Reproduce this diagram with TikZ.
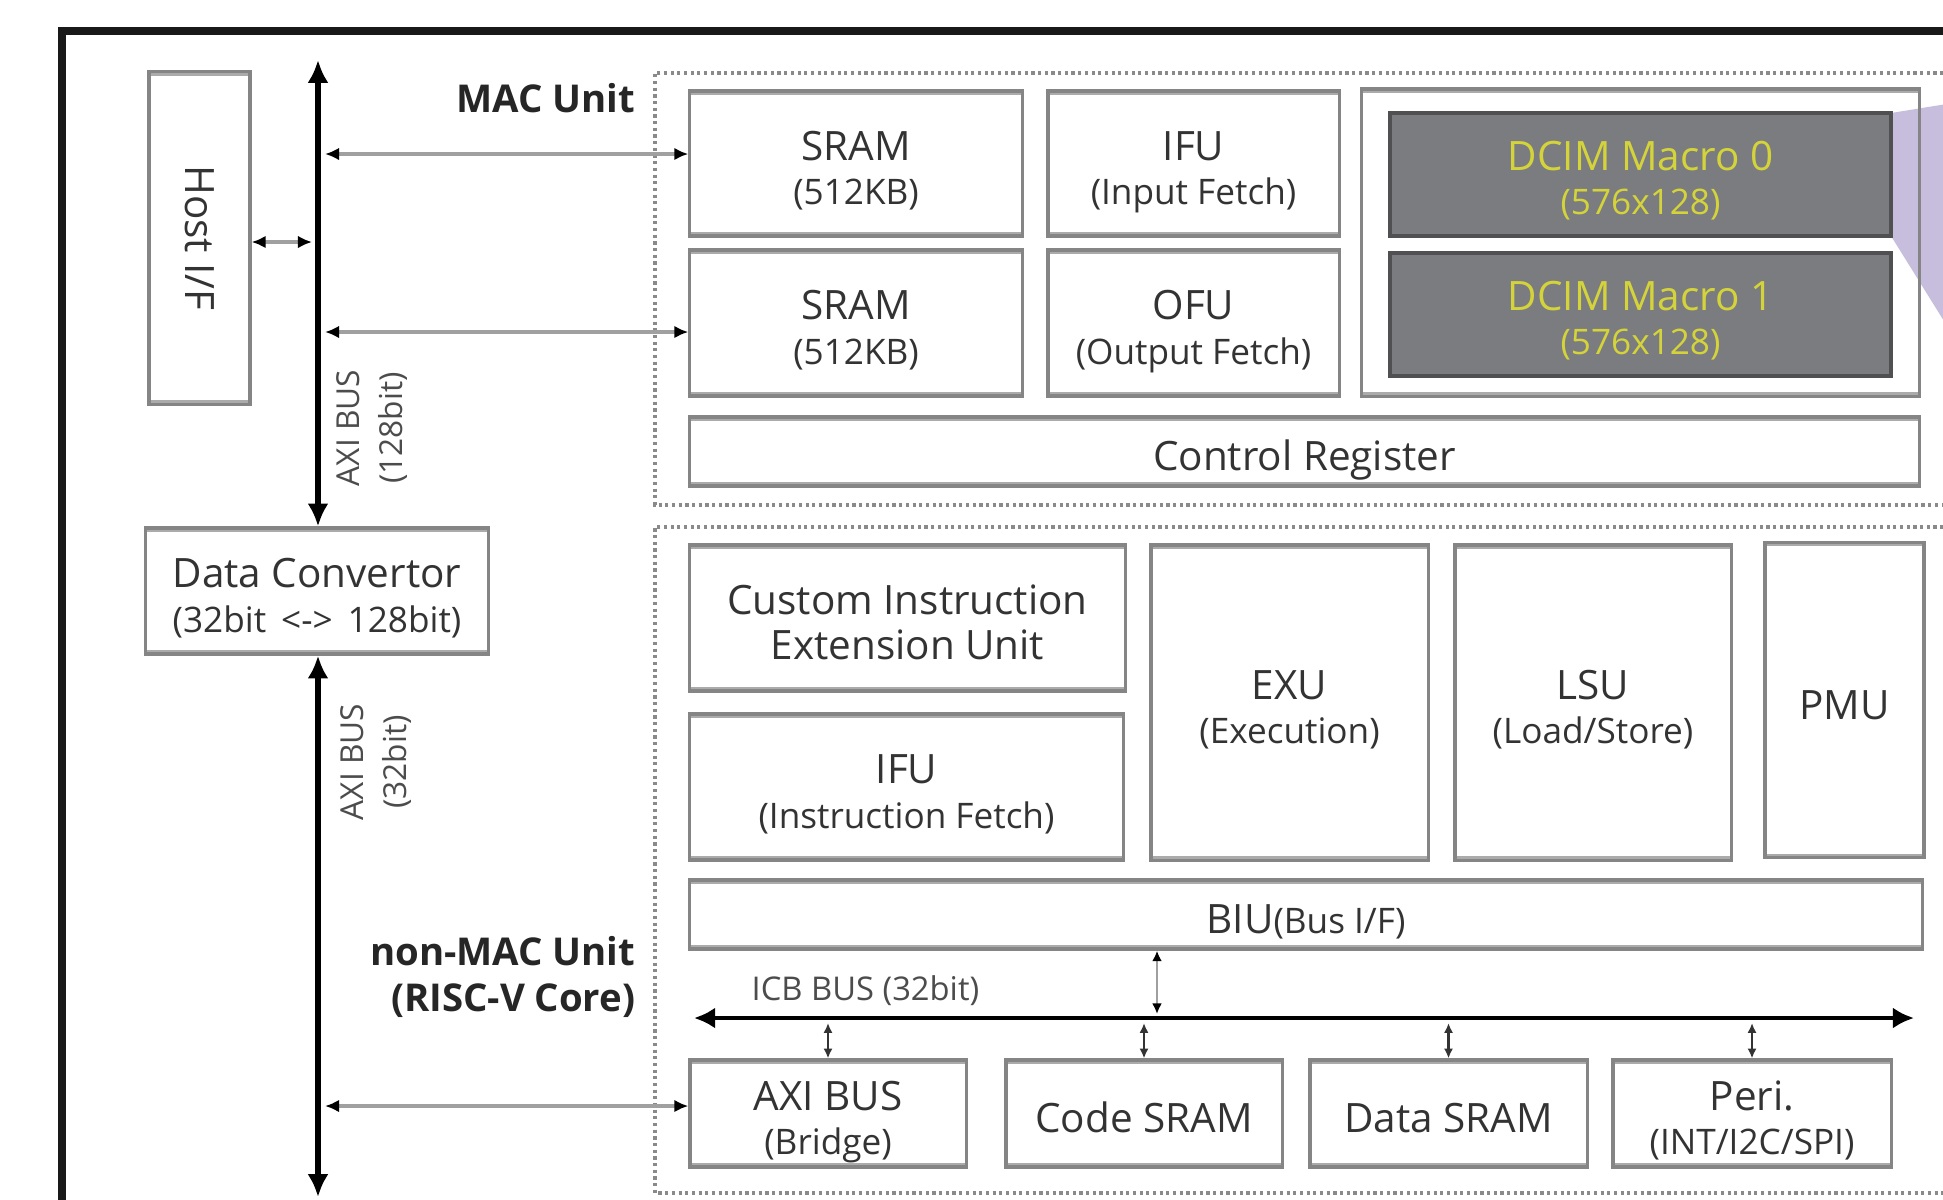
\documentclass[tikz,border=0pt]{standalone}
\usepackage{fontspec}
\setmainfont{Open Sans}
\usepackage{graphicx}
\usetikzlibrary{arrows.meta}
\definecolor{boxgray}{HTML}{858585}
\definecolor{bandgray}{HTML}{ABABAB}
\definecolor{txt}{HTML}{333333}
\definecolor{dcimfill}{HTML}{7B7C80}
\definecolor{dcimline}{HTML}{505052}
\definecolor{dcimtxt}{HTML}{D4D43A}
\definecolor{lav}{HTML}{C6BEDC}
\definecolor{conngray}{HTML}{A0A0A0}
\definecolor{dotgray}{HTML}{8A8A8A}
\newcommand\mfont{\fontsize{11.5}{12.6}\selectfont}
\newcommand\sfont{\fontsize{10}{12.6}\selectfont}
\newcommand\lfont{\fontsize{9}{12}\selectfont}
\newcommand\bfont{\fontsize{10.9}{13}\selectfont}
\begin{document}
\begin{tikzpicture}[x=0.01cm,y=-0.01cm,
  box/.style={draw=boxgray,line width=0.9pt,fill=white,inner sep=0pt,text=txt,align=center,font=\mfont,text depth=0pt,text height=11pt,
    path picture={\fill[bandgray] (path picture bounding box.north west) rectangle ([yshift=-1.1pt]path picture bounding box.north east);
                  \fill[bandgray] (path picture bounding box.south west) rectangle ([yshift=1.1pt]path picture bounding box.south east);}},
  twoline/.style={text height=23.4pt},
  dcim/.style={draw=dcimline,line width=1.2pt,fill=dcimfill,inner sep=0pt,text=dcimtxt,align=center,font=\mfont,text depth=0pt,text height=22.9pt},
  conn/.style={draw=conngray,line width=1.2pt,{Latex[length=4pt,width=3.6pt,color=black]}-{Latex[length=4pt,width=3.6pt,color=black]}},
  thinconn/.style={draw=conngray,line width=0.7pt,{Latex[length=3pt,width=2.8pt,color=black]}-{Latex[length=3pt,width=2.8pt,color=black]}},
  bus/.style={draw=black,line width=1.7pt,{Latex[length=6.5pt,width=6pt]}-{Latex[length=6.5pt,width=6pt]}},
  icb/.style={draw=black,line width=1.4pt,{Latex[length=6pt,width=6pt]}-{Latex[length=6pt,width=6pt]}},
  tap/.style={draw=black!80,line width=0.7pt,{Latex[length=2.8pt,width=2.6pt]}-{Latex[length=2.8pt,width=2.6pt]}},
  grp/.style={draw=dotgray,line width=0.9pt,densely dotted},
  lbl/.style={text=black!85,font=\bfseries\bfont,inner sep=0pt},
  buslbl/.style={text=black!70,font=\lfont,inner sep=0pt,align=center}]

\useasboundingbox (0,0) rectangle (1943,1199);
\clip (0,0) rectangle (1943,1199);
\fill[white] (0,0) rectangle (1943,1199);

% outer frame
\draw[line width=2pt,draw=black!90] (62,1240) -- (62,31) -- (1990,31);

% group outlines
\draw[grp] (1990,73) -- (655,73) -- (655,505) -- (1990,505);
\draw[grp] (1990,527) -- (655,527) -- (655,1193) -- (1990,1193);

% lavender zoom wedge
\fill[lav] (1891,113) -- (1990,97) -- (1990,395) -- (1891,236) -- cycle;

% left side
\node[box,minimum width=1.01cm,minimum height=3.32cm,text depth=,text height=] (host) at (199.5,238) {\rotatebox{-90}{Host I/F}};
\node[box,twoline,minimum width=3.42cm,minimum height=1.26cm] (dc) at (317,591) {Data Convertor\\{\sfont (32bit \,<->\, 128bit)}};

% MAC unit
\node[box,twoline,minimum width=3.32cm,minimum height=1.45cm] (sram1) at (856,163.5) {SRAM\\{\sfont (512KB)}};
\node[box,twoline,minimum width=3.32cm,minimum height=1.46cm] (sram2) at (856,323) {SRAM\\{\sfont (512KB)}};
\node[box,twoline,minimum width=2.91cm,minimum height=1.45cm] (ifu) at (1193.5,163.5) {IFU\\{\sfont (Input Fetch)}};
\node[box,twoline,minimum width=2.91cm,minimum height=1.46cm] (ofu) at (1193.5,323) {OFU\\{\sfont (Output Fetch)}};
\node[box,fill=none,minimum width=5.57cm,minimum height=3.07cm] (dcimbox) at (1640.5,242.5) {};
\node[dcim,minimum width=5.01cm,minimum height=1.23cm] (dcim0) at (1640.5,174.5) {DCIM Macro 0\\{\sfont (576x128)}};
\node[dcim,minimum width=5.01cm,minimum height=1.23cm] (dcim1) at (1640.5,314.5) {DCIM Macro 1\\{\sfont (576x128)}};
\node[box,minimum width=12.29cm,minimum height=0.69cm] (ctrl) at (1304.5,451.5) {Control Register};

% non-MAC unit
\node[box,twoline,minimum width=4.35cm,minimum height=1.46cm] (cie) at (907.5,618) {Custom Instruction\\Extension Unit};
\node[box,twoline,minimum width=4.33cm,minimum height=1.46cm] (ifu2) at (906.5,787) {IFU\\{\sfont (Instruction Fetch)}};
\node[box,twoline,minimum width=2.77cm,minimum height=3.15cm] (exu) at (1289.5,702.5) {EXU\\{\sfont (Execution)}};
\node[box,twoline,minimum width=2.76cm,minimum height=3.15cm] (lsu) at (1593,702.5) {LSU\\{\sfont (Load/Store)}};
\node[box,minimum width=1.59cm,minimum height=3.15cm] (pmu) at (1844.5,700) {PMU};
\node[box,minimum width=12.32cm,minimum height=0.69cm] (biu) at (1306,914.5) {BIU{\sfont (Bus I/F)}};
\node[box,twoline,minimum width=2.76cm,minimum height=1.07cm] (axib) at (828,1113.5) {AXI BUS\\{\sfont (Bridge)}};
\node[box,minimum width=2.76cm,minimum height=1.07cm] (code) at (1144,1113.5) {Code SRAM};
\node[box,minimum width=2.77cm,minimum height=1.07cm] (data) at (1448.5,1113.5) {Data SRAM};
\node[box,twoline,minimum width=2.78cm,minimum height=1.07cm] (peri) at (1752,1113.5) {Peri.\\{\sfont (INT/I2C/SPI)}};

% labels
\node[lbl,anchor=east] (maclbl) at (636,98) {MAC Unit};
\node[lbl,anchor=east,align=right] (nmlbl) at (636,977) {non-MAC Unit\\(RISC-V Core)};
\node[buslbl,rotate=90] (axi128) at (372,428) {AXI BUS\\(128bit)};
\node[buslbl,rotate=90] (axi32) at (376,762) {AXI BUS\\(32bit)};
\node[buslbl,anchor=west,font=\fontsize{9.3}{12}\selectfont] (icblbl) at (751,991) {ICB BUS (32bit)};

% AXI buses
\coordinate (bt) at (318,60);
\coordinate (bb) at (318,1197);
\draw[bus] (bt) -- (bt |- dc.north);
\draw[bus] (bt |- dc.south) -- (bb);

% bus taps
\coordinate (h2) at (312,242);
\draw[conn] (h2 -| host.east) -- (h2);
\coordinate (t1) at (325,154);
\draw[conn] (t1) -- (t1 -| sram1.west);
\coordinate (t2) at (325,332);
\draw[conn] (t2) -- (t2 -| sram2.west);
\coordinate (t3) at (325,1106);
\draw[conn] (t3) -- (t3 -| axib.west);

% ICB bus
\coordinate (icbL) at (694,1018);
\coordinate (icbR) at (1914,1018);
\draw[icb] (icbL) -- (icbR);
\coordinate (b1) at (1157,1014);
\draw[thinconn] (b1 |- biu.south) -- (b1);
\coordinate (icbB) at (0,1023);
\draw[tap] (axib.north) -- (axib.north |- icbB);
\draw[tap] (code.north) -- (code.north |- icbB);
\draw[tap] (data.north) -- (data.north |- icbB);
\draw[tap] (peri.north) -- (peri.north |- icbB);
\end{tikzpicture}
\end{document}
